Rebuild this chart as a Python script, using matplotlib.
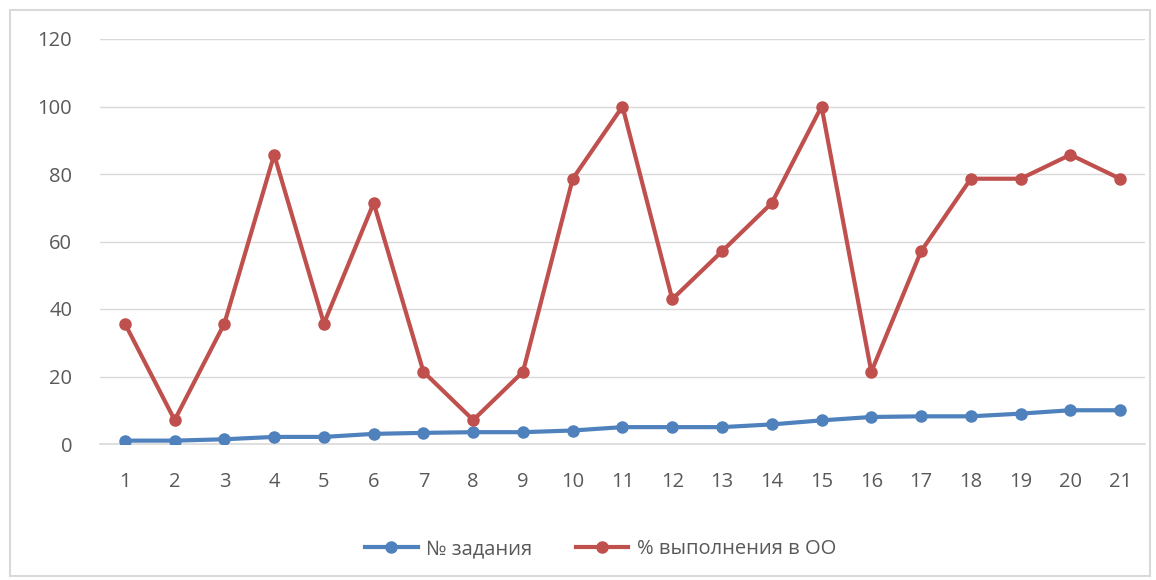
import numpy as np
import matplotlib.pyplot as plt
from matplotlib.patches import Rectangle

# данные
tasks = list(range(1, 22))
task_no = [1, 1, 1.4, 2.1, 2.1, 3, 3.3, 3.5, 3.5, 4, 5, 5, 5, 5.8, 7, 8, 8.2, 8.2, 9, 10, 10]
percent = [35.7, 7.1, 35.7, 85.7, 35.7, 71.4, 21.4, 7.1, 21.4, 78.6, 100, 42.9, 57.1,
           71.4, 100, 21.4, 57.1, 78.6, 78.6, 85.7, 78.6]
yticks = [0, 20, 40, 60, 80, 100, 120]

plt.rcParams['font.family'] = ['Open Sans', 'DejaVu Sans']

fig = plt.figure(figsize=(11.56, 5.8), dpi=100)
ax = fig.add_axes([100 / 1156, (580 - 444) / 580, 1045 / 1156, 405 / 580])

# рамка вокруг диаграммы
fig.patches.append(Rectangle((10 / 1156, 4 / 580), 1140 / 1156, 566 / 580,
                             transform=fig.transFigure, fill=False,
                             edgecolor='#d9d9d9', linewidth=1.5))

ax.plot(tasks, task_no, color='#4f81bd', linewidth=3, marker='o', markersize=8,
        label='№ задания', zorder=3)
ax.plot(tasks, percent, color='#c0504d', linewidth=3, marker='o', markersize=8,
        label='% выполнения в ОО', zorder=3)

ax.set_xlim(0.5, 21.5)
ax.set_ylim(0, 120)
ax.set_xticks(tasks)
ax.set_yticks(yticks)
ax.grid(axis='y', color='#d9d9d9', linewidth=1)
ax.axhline(0, color='#d9d9d9', linewidth=1.2, zorder=1, clip_on=False)
ax.set_axisbelow(True)
for s in ax.spines.values():
    s.set_visible(False)
ax.tick_params(axis='both', length=0, labelcolor='#595959', labelsize=14.5)
ax.tick_params(axis='y', pad=20)
ax.tick_params(axis='x', pad=20)

ax.legend(loc='center', bbox_to_anchor=(0.5 + (600 - 622) / 1045, -0.26), ncol=2,
          frameon=False, fontsize=14.5, labelcolor='#595959', handlelength=2.6,
          handletextpad=0.4, columnspacing=2.2)

fig.savefig('out.png', dpi=100)
